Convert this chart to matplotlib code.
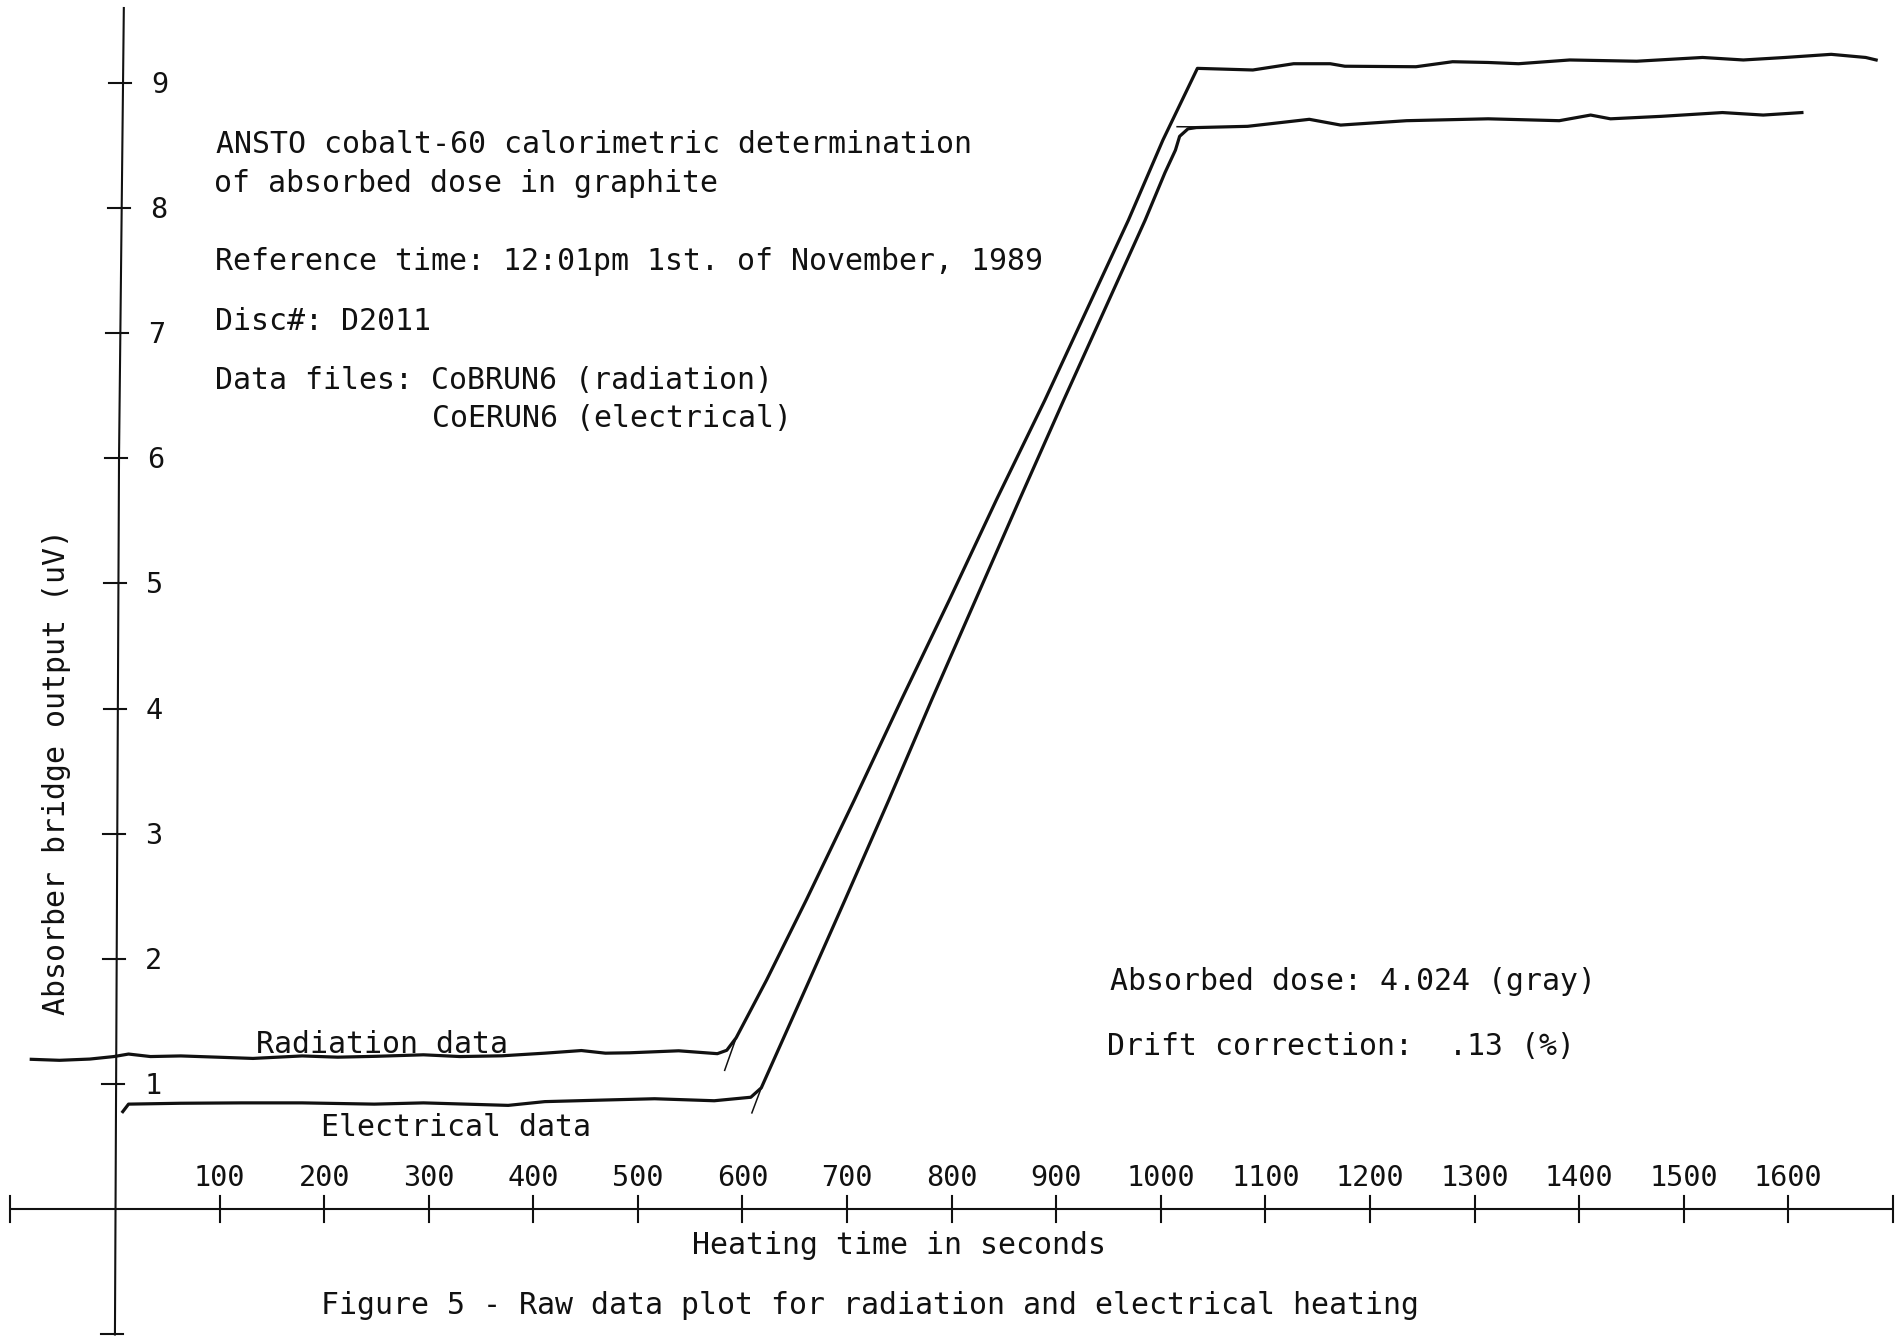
import matplotlib
matplotlib.use("Agg")
import matplotlib.pyplot as plt
import numpy as np

# ---------------- data ----------------
# Radiation heating run (time in s, bridge output in uV)
rad_t = [-80, -53, -24, -1, 13, 34, 63, 98, 132, 179, 213, 250, 295, 330, 370, 411, 446,
         469, 492, 539, 576, 585, 594, 623, 661, 707, 752, 798, 843, 889, 969, 1002, 1035,
         1088, 1127, 1162, 1176, 1244, 1279, 1313, 1342, 1391, 1455, 1518, 1557, 1597,
         1641, 1674, 1684]
rad_v = [1.198, 1.19, 1.20, 1.22, 1.24, 1.22, 1.225, 1.215, 1.205, 1.225, 1.215, 1.222,
         1.234, 1.22, 1.226, 1.247, 1.268, 1.247, 1.25, 1.266, 1.243, 1.27, 1.37, 1.83,
         2.47, 3.27, 4.07, 4.87, 5.67, 6.46, 7.90, 8.54, 9.113, 9.10, 9.15, 9.15, 9.13,
         9.126, 9.166, 9.16, 9.15, 9.18, 9.17, 9.20, 9.18, 9.20, 9.225, 9.20, 9.18]

# Electrical heating run
ele_t = [7.5, 13, 63, 121, 179, 248, 295, 376, 411, 469, 516, 573, 608, 618, 664, 698,
         740, 781, 823, 865, 907, 985, 1004, 1014, 1018, 1026, 1034, 1083, 1142, 1172,
         1235, 1313, 1381, 1411, 1430, 1479, 1537, 1576, 1613]
ele_v = [0.78, 0.84, 0.847, 0.85, 0.85, 0.84, 0.85, 0.83, 0.86, 0.873, 0.883, 0.867,
         0.895, 0.97, 1.83, 2.47, 3.27, 4.07, 4.87, 5.67, 6.46, 7.90, 8.28, 8.46, 8.57,
         8.63, 8.64, 8.65, 8.706, 8.66, 8.695, 8.71, 8.695, 8.74, 8.71, 8.73, 8.76,
         8.74, 8.76]

# short fitted-line extensions drawn by the plotter
rad_fit_t = [583, 594]
rad_fit_v = [1.11, 1.37]
ele_fit_t = [609, 618]
ele_fit_v = [0.77, 0.97]
ele_top_fit_t = [1015.6, 1040]
ele_top_fit_v = [8.647, 8.645]

# axes ticks / labels
x_ticks = [100, 200, 300, 400, 500, 600, 700, 800, 900, 1000, 1100, 1200, 1300, 1400,
           1500, 1600]
x_tick_labels = [str(t) for t in x_ticks]
x_end_ticks = [-100, 1700]
y_ticks = [1, 2, 3, 4, 5, 6, 7, 8, 9]
y_tick_labels = [str(v) for v in y_ticks]
y_end_ticks = [-1]

title_lines = ["ANSTO cobalt-60 calorimetric determination",
               "of absorbed dose in graphite"]
ref_time = "Reference time: 12:01pm 1st. of November, 1989"
disc = "Disc#: D2011"
files_1 = "Data files: CoBRUN6 (radiation)"
files_2 = "CoERUN6 (electrical)"
dose_text = "Absorbed dose: 4.024 (gray)"
drift_text = "Drift correction:  .13 (%)"
rad_label = "Radiation data"
ele_label = "Electrical data"
x_label = "Heating time in seconds"
y_label = "Absorber bridge output (uV)"
caption = "Figure 5 - Raw data plot for radiation and electrical heating"

# ---------------- figure ----------------
W, H = 1900, 1338
FONT = "DejaVu Sans Mono"
FS = 21.5

fig = plt.figure(figsize=(W / 100, H / 100), dpi=100)
fig.patch.set_facecolor("white")
ax = fig.add_axes([0, 0, 1, 1])
ax.set_xlim(-109.9, 1706.8)
ax.set_ylim(-1.028, 9.659)
ax.axis("off")

PX_T = 1.0459   # pixels per second
PX_V = 125.2    # pixels per uV


def fp(x, y):
    return (x / W, 1 - y / H)


ink = "#111111"

# axes lines
ax.plot([x_end_ticks[0], x_end_ticks[1]], [0, 0], color=ink, lw=1.5, solid_capstyle="butt")
yax_v = [-1.0, 6.0, 9.595]
yax_t = [0.0, 3.9, 8.5]
ax.plot(yax_t, yax_v, color=ink, lw=1.5)

tick_half = 13 / PX_V
for t in x_ticks + x_end_ticks:
    ax.plot([t, t], [-tick_half, tick_half], color=ink, lw=1.5)
for t, lab in zip(x_ticks, x_tick_labels):
    ax.text(t, (1209.3 - 1186) / PX_V, lab, ha="center", va="baseline",
            fontsize=FS - 1, family=FONT, color=ink)

for v in y_ticks + y_end_ticks:
    xa = np.interp(v, yax_v, yax_t)
    ax.plot([xa - 14 / PX_T, xa + 8 / PX_T], [v, v], color=ink, lw=1.5)
for v, lab in zip(y_ticks, y_tick_labels):
    xa = np.interp(v, yax_v, yax_t)
    ax.text(xa + 28 / PX_T, v - 10 / PX_V, lab, ha="left", va="baseline",
            fontsize=FS - 1, family=FONT, color=ink)

# data curves
ax.plot(rad_t, rad_v, color=ink, lw=2.3, solid_joinstyle="round")
ax.plot(ele_t, ele_v, color=ink, lw=2.3, solid_joinstyle="round")
for ft, fv in [(rad_fit_t, rad_fit_v), (ele_fit_t, ele_fit_v),
               (ele_top_fit_t, ele_top_fit_v)]:
    ax.plot(ft, fv, color=ink, lw=1.1)

# texts
def ftext(x, y, s, **kw):
    fig.text(*fp(x, y), s, ha=kw.pop("ha", "left"), va=kw.pop("va", "baseline"),
             fontsize=kw.pop("fontsize", FS), family=FONT, color=ink, **kw)


ftext(216, 152.7, title_lines[0])
ftext(214, 192, title_lines[1])
ftext(215, 270, ref_time)
ftext(215, 330, disc)
ftext(215, 389, files_1)
ftext(432, 427, files_2)
ftext(1110, 990, dose_text)
ftext(1107, 1055, drift_text)
ftext(256, 1053, rad_label)
ftext(321, 1136, ele_label)
ftext(692, 1254, x_label)
ftext(321, 1314, caption)
ftext(57, 772, y_label, ha="center", va="center", rotation=90)

fig.savefig("out.png", dpi=100, facecolor="white")
